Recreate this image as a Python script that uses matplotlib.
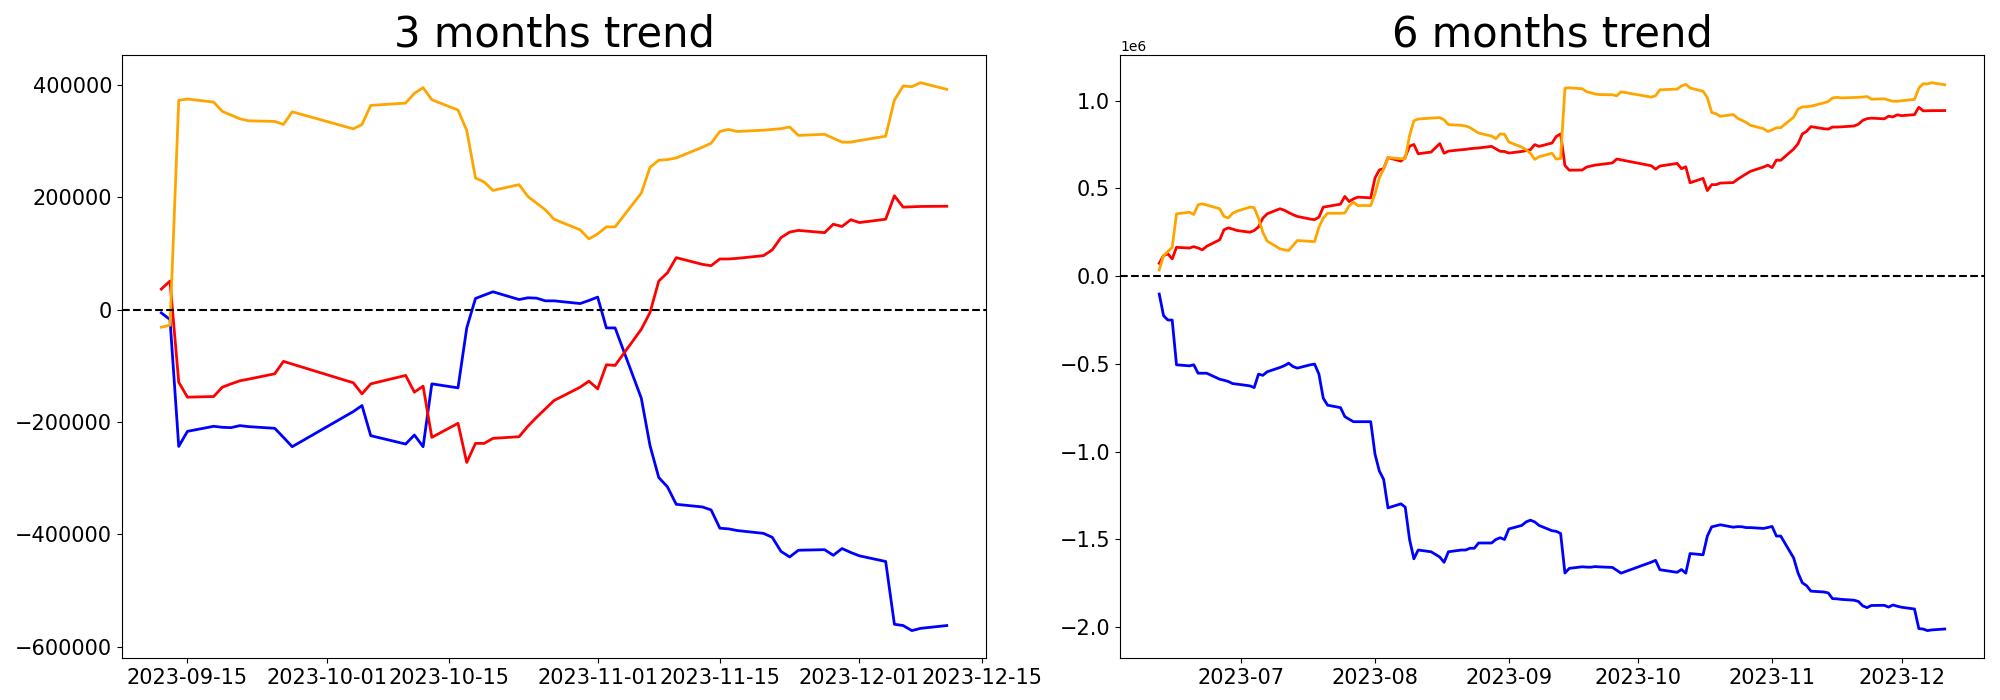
import matplotlib
matplotlib.use("Agg")
import matplotlib.pyplot as plt
import numpy as np
from datetime import datetime

# ---------------- 3 months (cumulative from 2023-09-12) ----------------
dates_3m = ["2023-09-12", "2023-09-13", "2023-09-14", "2023-09-15", "2023-09-18", "2023-09-19",
            "2023-09-20", "2023-09-21", "2023-09-22", "2023-09-25", "2023-09-26", "2023-09-27",
            "2023-10-04", "2023-10-05", "2023-10-06", "2023-10-10", "2023-10-11", "2023-10-12",
            "2023-10-13", "2023-10-16", "2023-10-17", "2023-10-18", "2023-10-19", "2023-10-20",
            "2023-10-23", "2023-10-24", "2023-10-25", "2023-10-26", "2023-10-27", "2023-10-30",
            "2023-10-31", "2023-11-01", "2023-11-02", "2023-11-03", "2023-11-06", "2023-11-07",
            "2023-11-08", "2023-11-09", "2023-11-10", "2023-11-13", "2023-11-14", "2023-11-15",
            "2023-11-16", "2023-11-17", "2023-11-20", "2023-11-21", "2023-11-22", "2023-11-23",
            "2023-11-24", "2023-11-27", "2023-11-28", "2023-11-29", "2023-11-30", "2023-12-01",
            "2023-12-04", "2023-12-05", "2023-12-06", "2023-12-07", "2023-12-08", "2023-12-11"]

blue_3m = [-5700, -17600, -243300, -216500, -207500, -209300, -209900, -206300, -208100, -211100,
           -227200, -243800, -181300, -170600, -224200, -239100, -223000, -243800, -132000, -139100,
           -32500, 19900, 25900, 31800, 18000, 21100, 20500, 15700, 15700, 10900,
           16300, 22300, -32500, -32500, -157500, -242000, -298600, -315300, -346300, -351000,
           -356300, -388800, -390000, -393000, -398000, -405000, -430000, -440000, -428000, -427000,
           -437000, -425000, -432000, -438000, -448000, -559700, -562000, -571000, -567000, -562000]

red_3m = [36600, 50900, -129000, -155700, -154500, -137900, -132000, -126600, -123600, -114100,
          -92000, -96800, -130100, -149800, -132000, -117000, -146800, -136100, -227200, -202200,
          -271800, -237900, -237900, -229000, -226000, -207500, -191500, -176600, -161700, -137900,
          -127200, -140900, -98000, -99200, -34900, -5100, 50900, 65700, 92500, 80600,
          78200, 90200, 90200, 91300, 96100, 106300, 128000, 138000, 141000, 137000,
          152000, 148000, 160000, 155000, 160900, 202700, 182400, 183000, 183600, 184000]

orange_3m = [-31300, -27700, 372400, 374700, 369300, 352700, 346100, 339600, 336000, 334900,
             329500, 352000, 321700, 329500, 363400, 367500, 384900, 394900, 373500, 355100,
             318800, 234200, 227000, 212200, 222400, 201500, 189500, 177700, 160900, 142000,
             125900, 134800, 147300, 147300, 207400, 253300, 265800, 267000, 269900, 289000,
             296100, 317000, 320600, 317000, 319300, 320600, 322000, 325000, 310000, 312000,
             305000, 298000, 298000, 300900, 308600, 372900, 397900, 396700, 403800, 392000]

# ---------------- 6 months (cumulative from 2023-06-12) ----------------
dates_6m = ["2023-06-12", "2023-06-13", "2023-06-14", "2023-06-15", "2023-06-16", "2023-06-19",
            "2023-06-20", "2023-06-21", "2023-06-22", "2023-06-23", "2023-06-26", "2023-06-27",
            "2023-06-28", "2023-06-29", "2023-06-30", "2023-07-03", "2023-07-04", "2023-07-05",
            "2023-07-06", "2023-07-07", "2023-07-10", "2023-07-11", "2023-07-12", "2023-07-13",
            "2023-07-14", "2023-07-17", "2023-07-18", "2023-07-19", "2023-07-20", "2023-07-21",
            "2023-07-24", "2023-07-25", "2023-07-26", "2023-07-27", "2023-07-28", "2023-07-31",
            "2023-08-01", "2023-08-02", "2023-08-03", "2023-08-04", "2023-08-07", "2023-08-08",
            "2023-08-09", "2023-08-10", "2023-08-11", "2023-08-14", "2023-08-16", "2023-08-17",
            "2023-08-18", "2023-08-21", "2023-08-22", "2023-08-23", "2023-08-24", "2023-08-25",
            "2023-08-28", "2023-08-29", "2023-08-30", "2023-08-31", "2023-09-01", "2023-09-04",
            "2023-09-05", "2023-09-06", "2023-09-07", "2023-09-08", "2023-09-11"] + dates_3m

blue_6m = [-102000, -225000, -250000, -250000, -505000, -511000, -505000, -553000, -553000, -553000,
           -587000, -593000, -600000, -612000, -615000, -625000, -635000, -558000, -565000, -545000,
           -520000, -510000, -496000, -515000, -524000, -505000, -501000, -558000, -695000, -735000,
           -749000, -800000, -815000, -829000, -829000, -829000, -1015000, -1110000, -1158000, -1320000,
           -1297000, -1316000, -1500000, -1610000, -1560000, -1570000, -1600000, -1630000, -1570000,
           -1560000, -1560000, -1550000, -1550000, -1520000, -1520000, -1500000, -1490000, -1500000,
           -1440000, -1420000, -1400000, -1390000, -1400000, -1420000, -1450000,
           -1453700, -1465600, -1691300, -1664500, -1655500, -1657300, -1657900, -1654300, -1656100,
           -1659100, -1675200, -1691800, -1629300, -1618600, -1672200, -1687100, -1671000, -1691800,
           -1580000, -1587100, -1480500, -1428100, -1422100, -1416200, -1430000, -1426900, -1427500,
           -1432300, -1432300, -1437100, -1431700, -1425700, -1480500, -1480500, -1605500, -1690000,
           -1746600, -1763300, -1794300, -1799000, -1804300, -1836800, -1838000, -1841000, -1846000,
           -1853000, -1878000, -1888000, -1876000, -1875000, -1885000, -1873000, -1880000, -1886000,
           -1896000, -2007700, -2010000, -2019000, -2015000, -2010000]

red_6m = [73000, 117000, 127000, 98000, 164000, 160000, 168000, 160000, 150000, 170000,
          207000, 264000, 275000, 268000, 260000, 250000, 260000, 280000, 330000, 355000,
          384000, 375000, 362000, 350000, 340000, 325000, 322000, 336000, 393000, 397000,
          410000, 454000, 425000, 440000, 450000, 446000, 560000, 605000, 612000, 675000,
          655000, 678000, 740000, 750000, 697000, 707000, 755000, 700000, 712000, 720000,
          722000, 726000, 728000, 730000, 739000, 725000, 711000, 710000, 701000, 710000,
          715000, 720000, 749000, 739000, 758000,
          795600, 809900, 630000, 603300, 604500, 621100, 627000, 632400, 635400, 644900,
          667000, 662200, 628900, 609200, 627000, 642000, 612200, 622900, 531800, 556800,
          487200, 521100, 521100, 530000, 533000, 551500, 567500, 582400, 597300, 621100,
          631800, 618100, 661000, 659800, 724100, 753900, 809900, 824700, 851500, 839600,
          837200, 849200, 849200, 850300, 855100, 865300, 887000, 897000, 900000, 896000,
          911000, 907000, 919000, 914000, 919900, 961700, 941400, 942000, 942600, 943000]

orange_6m = [35000, 117000, 140000, 164000, 355000, 364000, 351000, 406000, 412000, 405000,
             384000, 340000, 332000, 358000, 370000, 393000, 390000, 330000, 250000, 200000,
             155000, 150000, 146000, 175000, 203000, 198000, 197000, 279000, 330000, 358000,
             358000, 360000, 400000, 421000, 402000, 402000, 469000, 560000, 610000, 675000,
             669000, 669000, 800000, 885000, 895000, 900000, 903000, 890000, 863000, 859000,
             855000, 846000, 830000, 815000, 798000, 783000, 810000, 808000, 764000, 735000,
             720000, 700000, 665000, 680000, 700000,
             666700, 670300, 1070400, 1072700, 1067300, 1050700, 1044100, 1037600, 1034000, 1032900,
             1027500, 1050000, 1019700, 1027500, 1061400, 1065500, 1082900, 1092900, 1071500, 1053100,
             1016800, 932200, 925000, 910200, 920400, 899500, 887500, 875700, 858900, 840000,
             823900, 832800, 845300, 845300, 905400, 951300, 963800, 965000, 967900, 987000,
             994100, 1015000, 1018600, 1015000, 1017300, 1018600, 1020000, 1023000, 1008000, 1010000,
             1003000, 996000, 996000, 998900, 1006600, 1070900, 1095900, 1094700, 1101800, 1090000]

titles = ["3 months trend", "6 months trend"]

panels = [
    (dates_3m, blue_3m, red_3m, orange_3m),
    (dates_6m, blue_6m, red_6m, orange_6m),
]

fig, axes = plt.subplots(1, 2, figsize=(20, 7), dpi=100)
fig.subplots_adjust(left=0.061, right=0.992, top=0.921, bottom=0.060, wspace=0.155)

for ax, title, (d, b, r, o) in zip(axes, titles, panels):
    x = [datetime.strptime(s, "%Y-%m-%d") for s in d]
    ax.plot(x, b, color="blue", linewidth=2)
    ax.plot(x, r, color="red", linewidth=2)
    ax.plot(x, o, color="orange", linewidth=2)
    ax.axhline(0, color="black", linestyle="--", linewidth=1.5)
    ax.set_title(title, fontsize=30)
    ax.tick_params(labelsize=15)

fig.savefig("out.png", dpi=100)
